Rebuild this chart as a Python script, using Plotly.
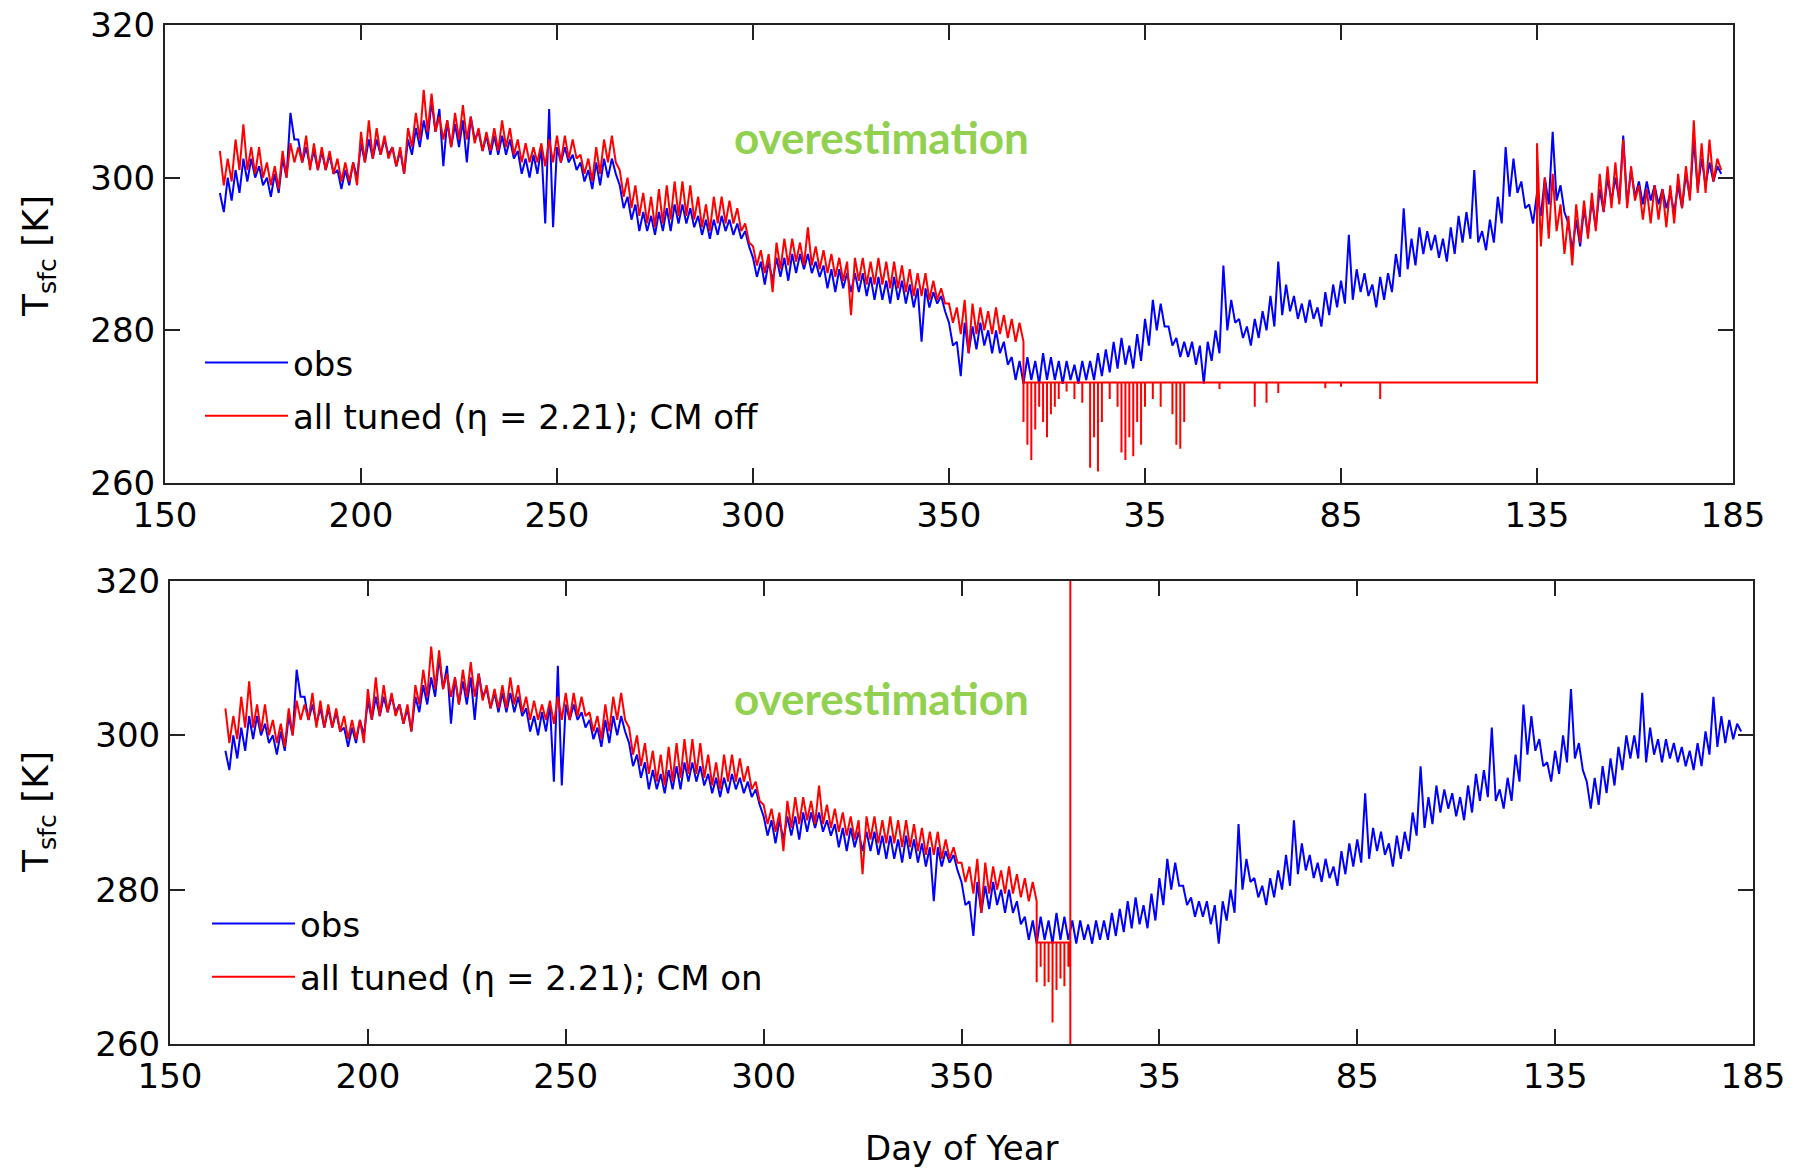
import plotly.graph_objects as go

W, H = 1794, 1169

# ---------------- data ----------------
# x axis: continuous day count; after day 365 the labels restart (35 = day 400 etc.)
tick_vals = [150, 200, 250, 300, 350, 400, 450, 500, 550]
tick_text = ["150", "200", "250", "300", "350", "35", "85", "135", "185"]
y_ticks = [260, 280, 300, 320]

# observations: 2-day envelope (daily low / daily high), days 164..546
obs_day = list(range(164, 547, 2))
obs_lo = [
    295.5, 297, 298, 299.5, 300, 299, 297.5, 298, 300, 305,
    302, 301.5, 301, 301, 300.5, 298.5, 299, 300, 302, 302.5,
    303, 303, 301.5, 300.5, 303, 304, 305, 306, 301.5, 304,
    304, 302, 305, 303.5, 303, 303, 303, 302.5, 300.5, 300,
    300.5, 294, 293.5, 302, 302, 301, 299.5, 298.5, 299, 300,
    300.5, 296, 294.5, 293, 293, 292.5, 293, 293, 294, 294,
    293.5, 292.5, 292, 292.5, 293, 292.5, 292, 291, 287, 286,
    286.5, 287, 286.5, 287.5, 288, 287.5, 287, 285.5, 285, 285.5,
    285, 285, 284.5, 284, 284, 283.5, 284, 283.5, 283, 278.5,
    283, 283.5, 282.5, 278, 274, 277, 277.5, 278, 277, 277,
    275.5, 273.5, 273, 273.5, 273, 273.5, 273.5, 273, 273.5, 273,
    273.5, 273.5, 274, 274.5, 275, 275.5, 275, 276, 278, 280,
    280.5, 278, 276.5, 276.5, 275.5, 273, 276, 277, 280, 281,
    279, 278, 279, 280, 280.5, 282, 282.5, 281.5, 281, 281.5,
    280.5, 282, 283, 283.5, 284, 285, 284.5, 283, 284, 285,
    287, 288, 288.5, 290, 290.5, 289.5, 289, 290, 291.5, 292,
    291.5, 290.5, 291.5, 294, 297.5, 298, 296, 294, 295, 296.5,
    297, 295.5, 290.5, 291, 292.5, 293.5, 295.5, 297, 297, 296.5,
    297.5, 296.5, 297, 296.5, 296, 295.5, 296, 297.5, 298.5, 299,
    299.5, 300.5,
]
obs_hi = [
    298, 300, 301, 302.5, 302.5, 301.5, 300, 300.5, 302.5, 308.5,
    305, 304, 303.5, 303.5, 303, 301, 301, 302, 304.5, 305,
    305, 305, 304, 303.5, 305, 306.5, 307.5, 310, 309, 307.5,
    307, 307.5, 308, 306, 305.5, 305.5, 305.5, 305, 303.5, 302.5,
    303, 304, 309, 304, 304, 303, 302, 301, 302, 302.5,
    302.5, 299, 297.5, 296.5, 295.5, 295, 295.5, 296, 296.5, 296.5,
    296, 295, 294.5, 294.5, 295, 294.5, 294, 293, 289.5, 289,
    289, 289.5, 289.5, 290, 290, 290, 289, 288.5, 288, 288,
    287.5, 287.5, 287.5, 287, 287, 286.5, 287, 286.5, 286, 285.5,
    285.5, 285, 284.5, 281, 278.5, 281, 280.5, 281, 280, 280,
    278.5, 276.5, 276, 276.5, 276, 277, 276.5, 276, 276, 275.5,
    276, 276, 277, 277.5, 278.5, 279, 278, 279.5, 281.5, 284,
    283.5, 280.5, 279, 278.5, 278.5, 278, 278.5, 280, 288.5, 284,
    281.5, 280.5, 281.5, 282.5, 284.5, 289, 286, 284.5, 283.5, 284,
    283, 285, 286, 286.5, 292.5, 288, 287.5, 286, 287, 287.5,
    290, 296, 292, 293.5, 293, 292.5, 292, 293.5, 295, 295.5,
    301, 293, 294.5, 297.5, 304, 302.5, 299.5, 296.5, 298, 300,
    306, 299, 294, 294.5, 296, 297, 298.5, 300, 300, 305.5,
    301, 299.5, 299.5, 299, 298.5, 298, 299, 300.5, 305, 302.5,
    302, 301.5,
]

# model "all tuned": 2-day envelope, days 164..368 (same in both runs)
mod_day = list(range(164, 369, 2))
mod_lo = [
    299, 299.5, 301, 301, 300.5, 300, 299, 298.5, 300, 302,
    302, 301, 301, 301, 300.5, 299.5, 299.5, 299, 302, 302.5,
    303, 302.5, 301.5, 300.5, 304, 305, 306, 306, 305, 304,
    305, 305, 304.5, 303.5, 303.5, 303.5, 304, 303, 302, 302,
    302, 301.5, 302, 302, 302.5, 302.5, 300.5, 299.5, 300.5, 302,
    302, 297.5, 296, 295, 294, 293.5, 294, 294.5, 295, 295,
    294.5, 293.5, 293, 294, 294, 294, 293, 291.5, 288.5, 287.5,
    285, 288, 288.5, 289, 288.5, 288.5, 288, 287.5, 287, 286.5,
    282, 286.5, 286, 286, 286, 285.5, 285.5, 285, 284.5, 284.5,
    284, 284, 283.5, 281, 279.5, 277, 279.5, 280, 279.5, 279.5,
    279, 278.5, 278.5,
]
mod_hi = [
    303.5, 302.5, 305, 307, 304, 304, 302, 301.5, 303.5, 304.5,
    304, 305.5, 304.5, 304, 303.5, 302.5, 302, 302, 306, 307.5,
    306.5, 305.5, 304, 304, 306.5, 308.5, 311.5, 311, 308, 307.5,
    308.5, 309.5, 308, 306.5, 306, 306.5, 307.5, 306.5, 305, 304.5,
    304, 304.5, 305, 305.5, 305.5, 305, 303, 302.5, 304, 305,
    305.5, 301, 300, 299, 298, 297.5, 298.5, 299, 299.5, 299.5,
    299, 297.5, 296.5, 297.5, 297.5, 297, 296, 294, 291, 290.5,
    290, 291.5, 292, 292, 291.5, 293.5, 291, 290.5, 290, 289.5,
    289, 289.5, 289.5, 289, 289.5, 289, 289, 288.5, 288, 287.5,
    287.5, 286.5, 285.5, 283.5, 283, 284, 283.5, 283, 282.5, 283,
    282, 281.5, 281,
]

# freezing-point clamp value of the model and its spans
t_freeze = 273.15
off_clamp_span = [369, 500]
on_clamp_span = [369, 377.5]

# CM off: downward spikes during the clamp
off_spk_day = [369, 370, 371, 372, 373, 374, 375, 376, 377, 378, 380, 382, 384,
               386, 387, 388, 389, 391, 393, 394, 395, 396, 397, 398, 399, 400,
               402, 404, 407, 408, 409, 410, 419, 428, 431, 434, 446, 450, 460]
off_spk_val = [268, 265, 263, 267, 270, 268, 266, 269, 270, 271, 272, 271, 270.5,
               262, 266, 261.5, 268, 271, 270, 264, 263, 266, 263.5, 268, 265, 270,
               271, 270, 269, 265, 264.5, 268, 272.3, 270, 270.5, 271.8, 272.4, 272.6, 271]

# CM off: after the clamp ends, days 500..546
off_tail_day = list(range(500, 547, 2))
off_tail_lo = [291, 292, 293, 290, 288.5, 291.5, 292, 293, 295.5, 296,
               296.5, 296, 297, 294.5, 294, 294.5, 293.5, 294, 296, 297,
               298, 298, 299.5, 301]
off_tail_hi = [304.5, 300, 300.5, 296.5, 295, 296.5, 297, 298, 300.5, 301.5,
               302, 305, 301.5, 299, 298.5, 299, 298.5, 299, 300.5, 301.5,
               307.5, 304.5, 305, 302.5]

# CM on: downward spikes during the short clamp, then the run breaks off
on_spk_day = [369, 370, 371, 372, 373, 374, 375, 376, 377]
on_spk_val = [268, 270, 267.5, 268, 262.8, 267, 268.5, 267.5, 270]
on_break_val = [240, 340]

# ---------------- helpers ----------------
def zigzag(days, lo, hi):
    xs, ys = [], []
    for d, l, h in zip(days, lo, hi):
        xs += [d, d + 1]
        ys += [h, l]
    return xs, ys


def spikes(days, vals, base):
    xs, ys = [], []
    for d, v in zip(days, vals):
        xs += [d, d, d]
        ys += [base, v, base]
    return xs, ys


ox, oy = zigzag(obs_day, obs_lo, obs_hi)
mx, my = zigzag(mod_day, mod_lo, mod_hi)

# CM off series
sx, sy = spikes(off_spk_day, off_spk_val, t_freeze)
tx, ty = zigzag(off_tail_day, off_tail_lo, off_tail_hi)
off_x = mx + [off_clamp_span[0]] + sx + [off_clamp_span[1]] + tx
off_y = my + [t_freeze] + sy + [t_freeze] + ty

# CM on series
sx2, sy2 = spikes(on_spk_day, on_spk_val, t_freeze)
on_x = mx + [on_clamp_span[0]] + sx2 + [on_clamp_span[1]] * (1 + len(on_break_val))
on_y = my + [t_freeze] + sy2 + [t_freeze] + on_break_val

# ---------------- figure ----------------
BLUE = "#0000FF"
RED = "#FF0000"
LW = 2.0
FONT = "DejaVu Sans, Liberation Sans, Arial, sans-serif"
FS = 34

fig = go.Figure()
fig.add_trace(go.Scatter(x=ox, y=oy, mode="lines", name="obs",
                         line=dict(color=BLUE, width=LW),
                         xaxis="x", yaxis="y", legend="legend", legendgroup="a"))
fig.add_trace(go.Scatter(x=off_x, y=off_y, mode="lines",
                         name="all tuned (η = 2.21); CM off",
                         line=dict(color=RED, width=LW),
                         xaxis="x", yaxis="y", legend="legend", legendgroup="b"))
fig.add_trace(go.Scatter(x=ox, y=oy, mode="lines", name="obs",
                         line=dict(color=BLUE, width=LW),
                         xaxis="x2", yaxis="y2", legend="legend2", legendgroup="c"))
fig.add_trace(go.Scatter(x=on_x, y=on_y, mode="lines",
                         name="all tuned (η = 2.21); CM on",
                         line=dict(color=RED, width=LW),
                         xaxis="x2", yaxis="y2", legend="legend2", legendgroup="d"))

axc = dict(showline=True, linecolor="#222222", linewidth=2, mirror="ticks",
           ticks="inside", ticklen=15, tickwidth=2, tickcolor="#222222",
           showgrid=False, zeroline=False, automargin=False,
           tickfont=dict(family=FONT, size=FS, color="black"))

xax = dict(axc, range=[150, 550], tickmode="array", tickvals=tick_vals,
           ticktext=tick_text, ticklabelstandoff=1)
yax = dict(axc, range=[260, 320], tickmode="array", tickvals=y_ticks,
           ticklabelstandoff=1)

fig.update_layout(
    width=W, height=H, autosize=False,
    margin=dict(l=0, r=0, t=0, b=0, pad=0, autoexpand=False),
    paper_bgcolor="white", plot_bgcolor="white",
    font=dict(family=FONT, size=FS, color="black"),
    xaxis=dict(xax, domain=[165 / W, 1733 / W], anchor="y"),
    yaxis=dict(yax, domain=[1 - 483 / H, 1 - 25 / H], anchor="x"),
    xaxis2=dict(xax, domain=[170 / W, 1753 / W], anchor="y2"),
    yaxis2=dict(yax, domain=[1 - 1044 / H, 1 - 581 / H], anchor="x2"),
    legend=dict(x=200 / W, y=1 - 334 / H, xanchor="left", yanchor="top",
                bgcolor="rgba(0,0,0,0)", itemwidth=83, tracegroupgap=6,
                font=dict(family=FONT, size=FS, color="black")),
    legend2=dict(x=207 / W, y=1 - 895 / H, xanchor="left", yanchor="top",
                 bgcolor="rgba(0,0,0,0)", itemwidth=83, tracegroupgap=6,
                 font=dict(family=FONT, size=FS, color="black")),
    showlegend=True,
)

green = "#92D050"
for yc in (137, 698):
    fig.add_annotation(text="<b>overestimation</b>", x=881 / W, y=1 - yc / H,
                       xref="paper", yref="paper", showarrow=False,
                       xanchor="center", yanchor="middle",
                       font=dict(family="Lato, Open Sans, sans-serif", size=44, color=green))

for yc in (256, 812):
    fig.add_annotation(text="T<sub>sfc</sub> [K]", x=38 / W, y=1 - yc / H,
                       xref="paper", yref="paper", showarrow=False, textangle=-90,
                       xanchor="center", yanchor="middle",
                       font=dict(family=FONT, size=36, color="black"))

fig.add_annotation(text="Day of Year", x=962 / W, y=1 - 1148 / H,
                   xref="paper", yref="paper", showarrow=False,
                   xanchor="center", yanchor="middle",
                   font=dict(family=FONT, size=FS, color="black"))

fig.write_html("out.html")
